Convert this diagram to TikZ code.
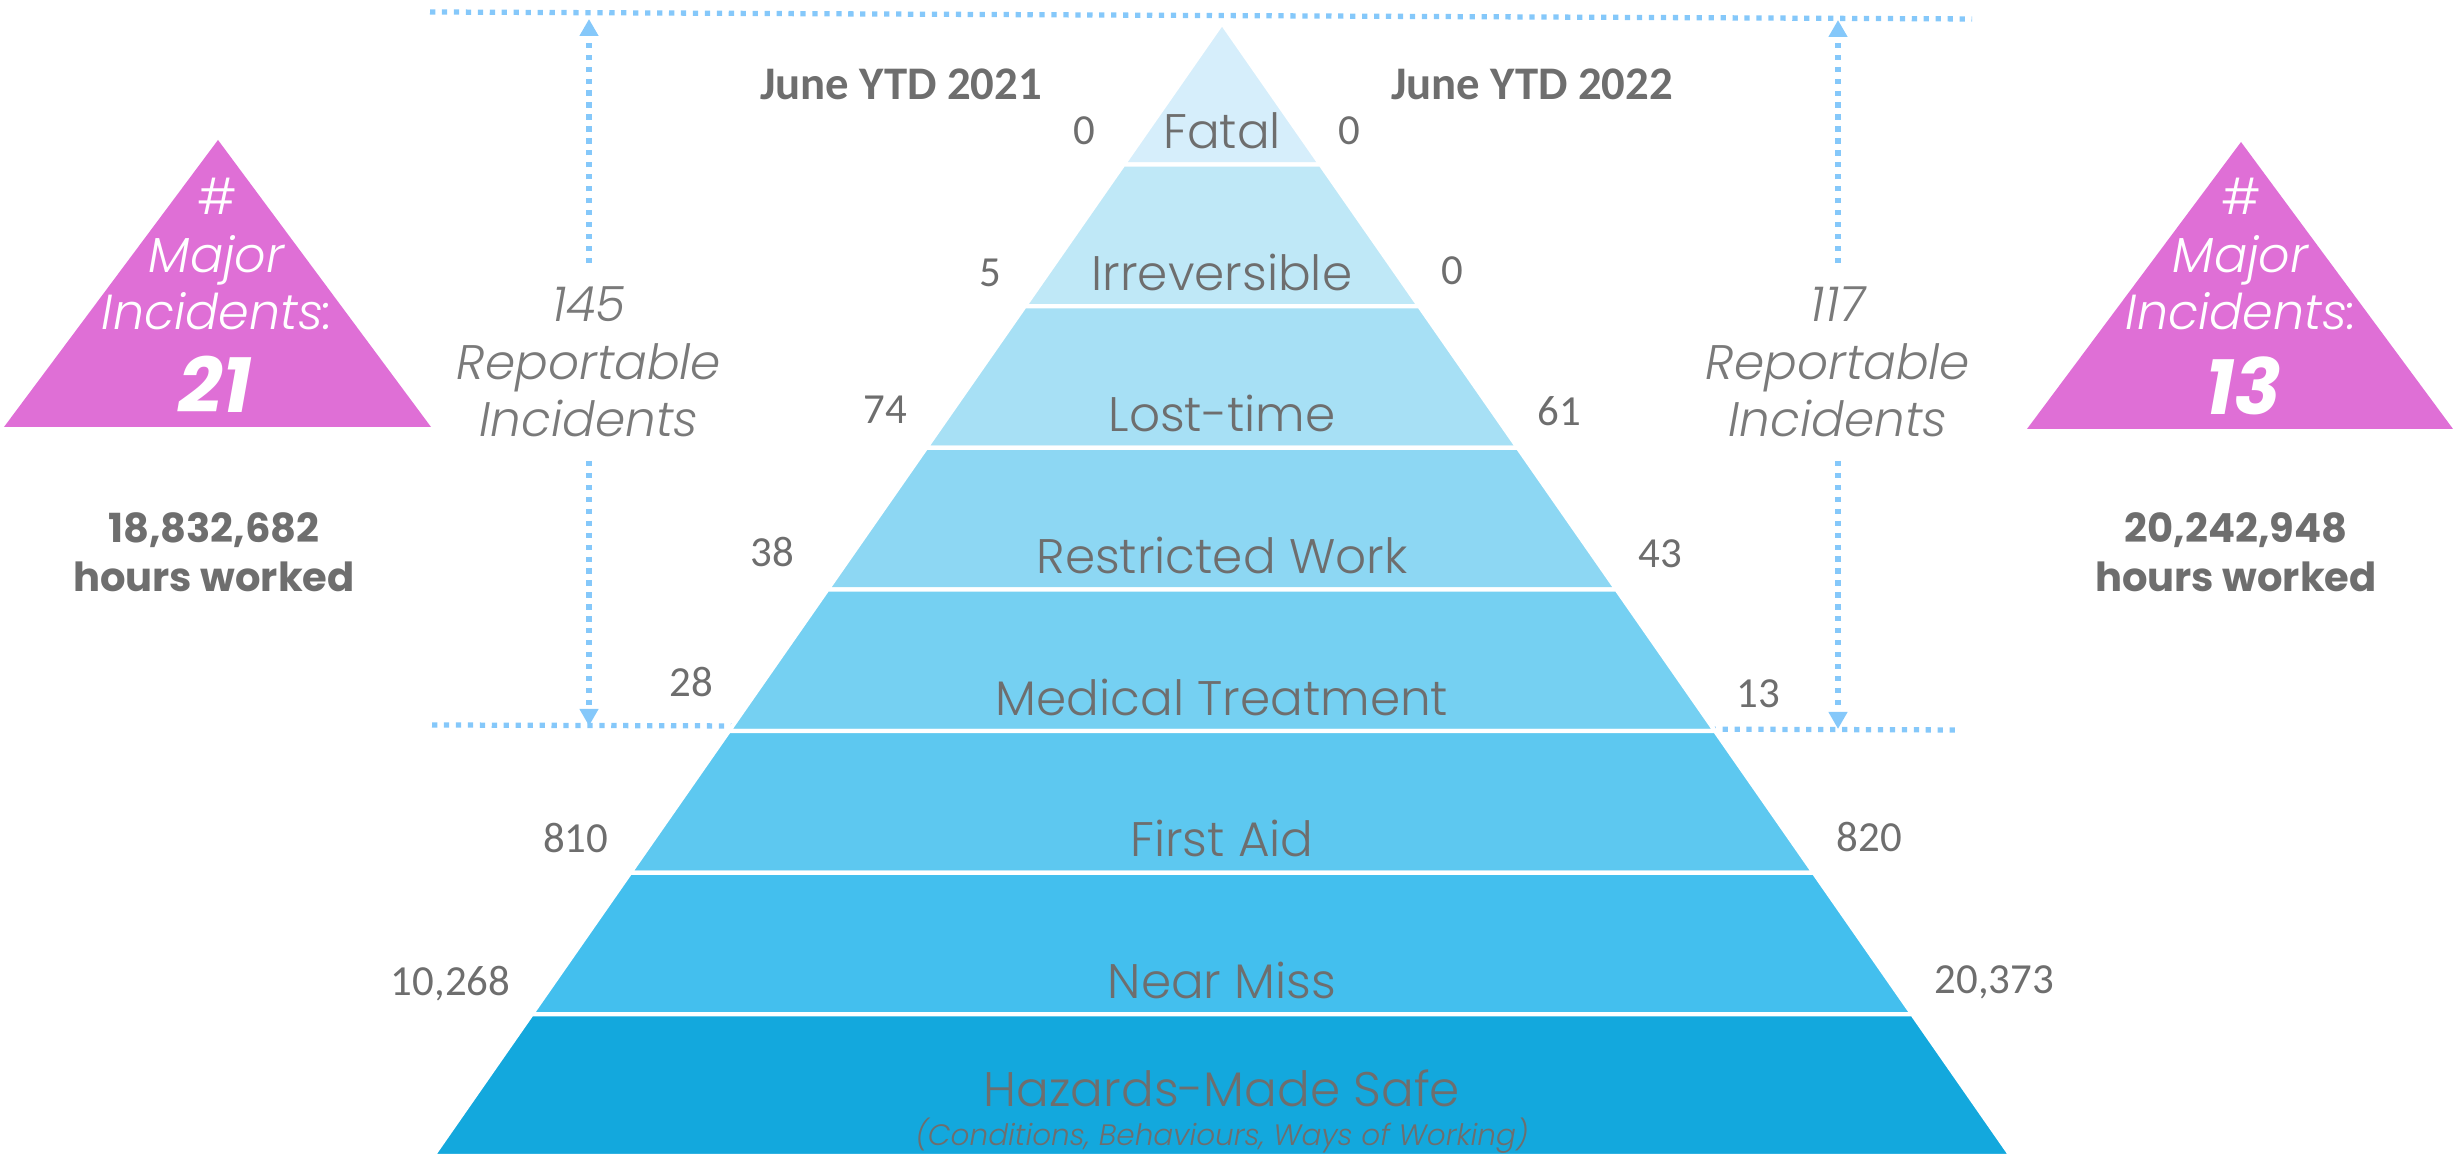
\documentclass[tikz,border=0pt]{standalone}
\usepackage{fontspec}
\usepackage{tikz}
\usetikzlibrary{arrows.meta}

\newfontfamily\gothic{Poppins Light}[ItalicFont={Poppins Light Italic}, BoldFont={Poppins Bold}, BoldItalicFont={Poppins Bold Italic}]
\newfontfamily\calib{Carlito}

\definecolor{txtgray}{HTML}{6E6E6E}
\definecolor{repgray}{HTML}{7A7A7A}
\definecolor{dotblue}{HTML}{85C8FA}
\definecolor{majorpink}{HTML}{DF6FD6}
\definecolor{band0}{HTML}{D6EEFB}
\definecolor{band1}{HTML}{BFE8F7}
\definecolor{band2}{HTML}{A7E0F5}
\definecolor{band3}{HTML}{8DD7F3}
\definecolor{band4}{HTML}{75D0F2}
\definecolor{band5}{HTML}{5DC8F0}
\definecolor{band6}{HTML}{43BFEE}
\definecolor{band7}{HTML}{13A8DD}

\begin{document}
\begin{tikzpicture}[
        band/.style={draw=white, line width=1.2pt},
        bandtext/.style={font=\gothic\fontsize{13.8}{16}\selectfont, text=txtgray, anchor=base, inner sep=0pt},
        subtext/.style={font=\gothic\itshape\fontsize{8.4}{10}\selectfont, text=txtgray, anchor=base, inner sep=0pt},
        sidenum/.style={font=\calib\fontsize{12.2}{14}\selectfont, text=txtgray, inner sep=0pt},
        yeartext/.style={font=\calib\bfseries\fontsize{13.3}{16}\selectfont, text=txtgray, anchor=base, inner sep=0pt},
        reptext/.style={font=\gothic\itshape\fontsize{13.8}{16.4}\selectfont, text=repgray, align=center, inner sep=0.23cm},
        majortext/.style={font=\gothic\fontsize{14}{16.4}\selectfont, text=white, align=center, anchor=base, inner sep=0pt},
        majornum/.style={font=\gothic\bfseries\itshape\fontsize{22}{26}\selectfont, text=white, anchor=base, inner sep=0pt},
        hourstext/.style={font=\gothic\bfseries\fontsize{11.4}{14.2}\selectfont, text=txtgray, align=center, anchor=base, inner sep=0pt},
        dotline/.style={dotblue, line width=1.5pt, dash pattern=on 1.5pt off 1.9pt},
        reparrow/.style={dotline, -{Triangle[width=0.18cm,length=0.17cm]}},
    ]
    \useasboundingbox (0,0) rectangle (24.53,11.56);

    % dotted guide lines (the pyramid covers them)
    \coordinate (topL) at (4.30,11.44);
    \coordinate (topR) at (19.72,11.37);
    \coordinate (midL) at (4.32,4.31);
    \coordinate (midR) at (19.60,4.26);
    \draw[dotline] (topL) -- (topR);
    \draw[dotline] (midL) -- (midR);

    % pyramid bands with counts on both sides
    \foreach \name/\lnum/\lx/\ly/\rnum/\rx/\ry/\col [count=\i from 0] in {
            Fatal/0/10.96/10.11/0/13.38/10.11/band0,
            Irreversible/5/10.02/8.69/0/14.41/8.71/band1,
            Lost-time/74/9.08/7.32/61/15.37/7.30/band2,
            Restricted Work/38/7.95/5.89/43/16.38/5.88/band3,
            Medical Treatment/28/7.14/4.59/13/17.36/4.48/band4,
            First Aid/810/6.09/3.03/820/18.36/3.04/band5,
            Near Miss/{10,268}/5.11/1.60/{20,373}/19.34/1.62/band6} {
        \pgfmathsetmacro\yt{11.33-\i*1.41625}
        \pgfmathsetmacro\yb{\yt-1.41625}
        \pgfmathsetmacro\wt{0.6964*(11.33-\yt)}
        \pgfmathsetmacro\wb{0.6964*(11.33-\yb)}
        \path[band, fill=\col] ({12.22-\wt},\yt) -- ({12.22+\wt},\yt) -- ({12.22+\wb},\yb) -- ({12.22-\wb},\yb) -- cycle;
        \node[bandtext] (lbl\i) at (12.22,\yb+0.16) {\name};
        \node[sidenum, anchor=base east] (nl\i) at (\lx,\ly) {\lnum};
        \node[sidenum, anchor=base west] (nr\i) at (\rx,\ry) {\rnum};
    }
    % bottom band
    \path[band, fill=band7] (5.316,1.41625) -- (19.124,1.41625) -- (20.11,0) -- (4.33,0) -- cycle;
    \node[bandtext] (lbl7) at (12.22,0.49) {Hazards-Made Safe};
    \node[subtext] (sub7) at (12.22,0.10) {(Conditions, Behaviours, Ways of Working)};

    % year headings
    \node[yeartext] (y21) at (9.01,10.56) {June YTD 2021};
    \node[yeartext] (y22) at (15.32,10.56) {June YTD 2022};

    % reportable incidents with arrows to the guide lines
    \node[reptext] (rep21) at (5.89,7.94) {145\\Reportable\\Incidents};
    \node[reptext] (rep22) at (18.38,7.94) {117\\Reportable\\Incidents};
    \coordinate (up21) at (5.89,11.37);
    \coordinate (down21) at (5.89,4.30);
    \coordinate (up22) at (18.38,11.36);
    \coordinate (down22) at (18.38,4.27);
    \draw[reparrow] (rep21) -- (up21);
    \draw[reparrow] (rep21) -- (down21);
    \draw[reparrow] (rep22) -- (up22);
    \draw[reparrow] (rep22) -- (down22);

    % major incidents triangles
    \fill[majorpink] (0.04,7.29) -- (4.31,7.29) -- (2.18,10.16) -- cycle;
    \fill[majorpink] (20.27,7.27) -- (24.53,7.27) -- (22.41,10.14) -- cycle;
    \node[majortext] (maj21) at (2.17,8.26) {\#\\\textit{Major}\\\textit{Incidents:}};
    \node[majornum] (num21) at (2.15,7.43) {21};
    \node[majortext] (maj22) at (22.41,8.26) {\#\\\textit{Major}\\\textit{Incidents:}};
    \node[majornum] (num22) at (22.43,7.41) {13};

    % hours worked
    \node[hourstext] (hrs21) at (2.14,5.64) {18,832,682\\hours worked};
    \node[hourstext] (hrs22) at (22.36,5.64) {20,242,948\\hours worked};
\end{tikzpicture}
\end{document}
